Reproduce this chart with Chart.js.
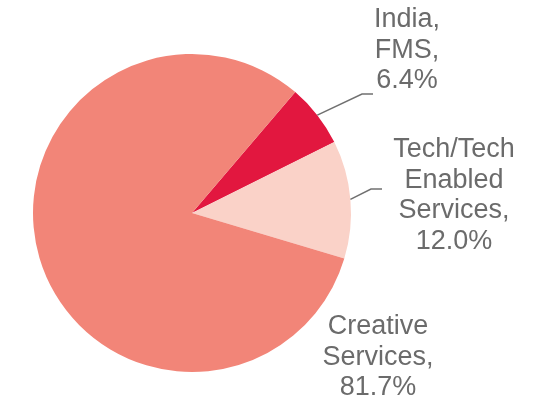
<!DOCTYPE html>
<html>
<head>
<meta charset="utf-8">
<script src="https://cdn.jsdelivr.net/npm/chart.js@4/dist/chart.umd.min.js"></script>
<style>
  html, body { margin: 0; padding: 0; background: #fff; }
  #wrap { width: 543px; height: 401px; }
</style>
</head>
<body>
<div id="wrap"><canvas id="pie" width="543" height="401"></canvas></div>
<script>
// segment names (already split into label lines) and shares in percent
const categories = [["India,", "FMS,"], ["Tech/Tech", "Enabled", "Services,"], ["Creative", "Services,"]];
const shares = [6.4, 12.0, 81.7];
const colors = ["#E2173F", "#FAD2C8", "#F28578"];

// label placement relative to the pie centre: text x, first line y, leader elbow + end (null = no leader)
const labelText = [[215, -193], [262, -63], [186, 114]];
const labelLeader = [[[170, -119], [181, -119]], [[179, -24], [190, -24]], null];

const TEXT_COLOR = "#6b6b6b";
const FONT = "27px 'Liberation Sans', Arial, sans-serif";
const LINE_H = 30.5;

const pieLabels = {
  id: "pieLabels",
  afterDatasetsDraw(chart) {
    const ctx = chart.ctx;
    const arcs = chart.getDatasetMeta(0).data;
    ctx.save();
    arcs.forEach((arc, i) => {
      const { x, y, startAngle, endAngle, outerRadius } = arc;
      const mid = (startAngle + endAngle) / 2;
      const lead = labelLeader[i];
      if (lead) {
        ctx.beginPath();
        ctx.moveTo(x + Math.cos(mid) * outerRadius, y + Math.sin(mid) * outerRadius);
        ctx.lineTo(x + lead[0][0], y + lead[0][1]);
        ctx.lineTo(x + lead[1][0], y + lead[1][1]);
        ctx.strokeStyle = "#707070";
        ctx.lineWidth = 1.5;
        ctx.stroke();
      }
      const lines = categories[i].concat([shares[i].toFixed(1) + "%"]);
      ctx.fillStyle = TEXT_COLOR;
      ctx.font = FONT;
      ctx.textAlign = "center";
      ctx.textBaseline = "middle";
      lines.forEach((t, k) => {
        ctx.fillText(t, x + labelText[i][0], y + labelText[i][1] + k * LINE_H);
      });
    });
    ctx.restore();
  },
};

new Chart(document.getElementById("pie"), {
  type: "pie",
  data: {
    labels: categories.map((c) => c.join(" ")),
    datasets: [{ data: shares, backgroundColor: colors, borderWidth: 0 }],
  },
  options: {
    responsive: false,
    animation: false,
    rotation: 40.5,
    layout: { padding: { left: 33, right: 192, top: 54, bottom: 29 } },
    plugins: { legend: { display: false }, tooltip: { enabled: false } },
  },
  plugins: [pieLabels],
});
</script>
</body>
</html>
